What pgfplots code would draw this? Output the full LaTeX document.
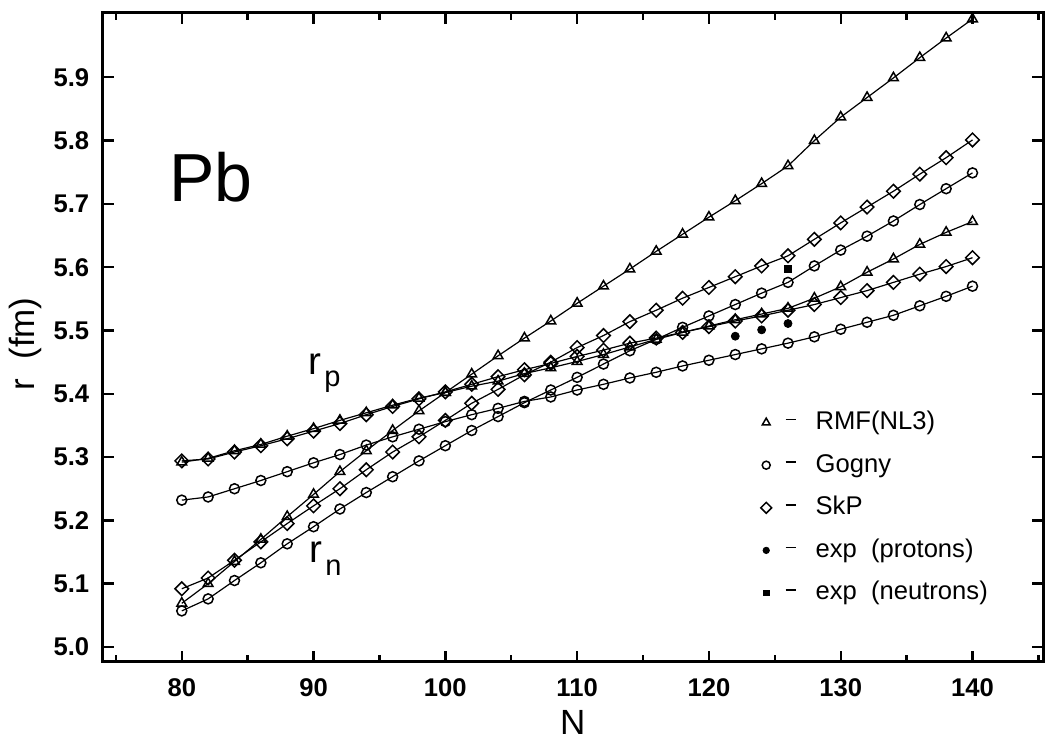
\documentclass[border=0pt]{standalone}
\usepackage{fontspec}
\setmainfont{Liberation Sans}
\usepackage{pgfplots}
\pgfplotsset{compat=1.18}
\usepackage{pgfplotstable}

\pgfplotstableread{
N   rmfn  rmfp  gogn  gogp  skpn  skpp
80  5.069 5.292 5.057 5.232 5.092 5.294
82  5.100 5.298 5.076 5.237 5.109 5.297
84  5.135 5.310 5.105 5.250 5.137 5.308
86  5.170 5.320 5.133 5.263 5.166 5.318
88  5.206 5.333 5.163 5.277 5.195 5.329
90  5.241 5.345 5.190 5.291 5.223 5.341
92  5.277 5.358 5.218 5.304 5.250 5.353
94  5.310 5.370 5.244 5.319 5.280 5.367
96  5.342 5.382 5.269 5.332 5.308 5.380
98  5.373 5.393 5.294 5.344 5.332 5.392
100 5.402 5.402 5.318 5.356 5.358 5.403
102 5.431 5.412 5.342 5.367 5.385 5.415
104 5.460 5.420 5.364 5.377 5.407 5.427
106 5.488 5.432 5.386 5.388 5.430 5.438
108 5.515 5.441 5.406 5.395 5.450 5.448
110 5.543 5.451 5.426 5.406 5.473 5.459
112 5.570 5.462 5.447 5.415 5.492 5.469
114 5.597 5.474 5.468 5.425 5.514 5.480
116 5.625 5.486 5.486 5.434 5.532 5.488
118 5.652 5.497 5.505 5.444 5.551 5.497
120 5.679 5.507 5.523 5.453 5.568 5.506
122 5.705 5.517 5.541 5.462 5.585 5.515
124 5.732 5.526 5.559 5.471 5.602 5.523
126 5.760 5.535 5.576 5.480 5.618 5.532
128 5.800 5.551 5.602 5.490 5.644 5.541
130 5.837 5.569 5.627 5.502 5.670 5.552
132 5.868 5.592 5.649 5.513 5.695 5.563
134 5.899 5.613 5.673 5.524 5.720 5.576
136 5.931 5.636 5.699 5.539 5.747 5.589
138 5.962 5.655 5.724 5.554 5.773 5.601
140 5.992 5.672 5.749 5.570 5.801 5.615
}\data

\pgfplotstableread{
N r
122 5.491
124 5.501
126 5.511
}\expp

\pgfplotstableread{
N r
126 5.597
}\expn

\begin{document}
\begin{tikzpicture}
\begin{axis}[
  scale only axis,
  width=470.15pt, height=324.5pt,
  xmin=74, xmax=145.35, ymin=4.9763, ymax=6.0016,
  xtick={80,90,100,110,120,130,140},
  minor xtick={75,85,95,105,115,125,135,145},
  ytick={5.0,5.1,5.2,5.3,5.4,5.5,5.6,5.7,5.8,5.9},
  yticklabels={5.0,5.1,5.2,5.3,5.4,5.5,5.6,5.7,5.8,5.9},
  tick align=inside,
  major tick length=5.5pt, minor tick length=3.5pt,
  axis line style={line width=1.5pt},
  every tick/.style={black, line width=1.2pt},
  /pgf/number format/assume math mode=true,
  tick label style={font=\fontsize{12.8}{14}\selectfont\bfseries},
  xticklabel style={yshift=-4.8pt},
  yticklabel style={xshift=-3.2pt},
  xlabel={N},
  ylabel={r\hspace{0.55em}(fm)},
  xlabel style={at={(axis description cs:0.5,-0.0924)}, anchor=center, font=\fontsize{17.5}{18}\selectfont},
  ylabel style={at={(axis description cs:-0.0826,0.49)}, anchor=center, font=\fontsize{17.5}{18}\selectfont},
  legend style={at={(axis cs:123.45,5.382)}, anchor=north west, draw=none, fill=none,
    font=\fontsize{12.8}{14}\selectfont, row sep=8.3pt, column sep=0pt,
    nodes={text height=10pt, text depth=3pt, inner sep=0pt}},
  legend cell align=left,
  legend image code/.code={\draw[#1, /tikz/every mark/.append style={scale=0.8}] plot coordinates {(0pt,0pt)};},
  clip=false,
]
\tikzset{
  dl/.style={black, line width=0.6pt},
  mo/.style={solid, fill=white, line width=0.75pt},
}
\addplot[dl, mark=triangle, mark size=2.8pt, mark options={mo}] table[x=N,y=rmfn]{\data};
\addlegendentry{\hspace{7pt}\rule[4.6pt]{5pt}{0.8pt}\hspace{10pt}RMF(NL3)}
\addplot[dl, mark=o, mark size=2.5pt, mark options={mo}] table[x=N,y=gogn]{\data};
\addlegendentry{\hspace{7pt}\rule[4.6pt]{5pt}{0.8pt}\hspace{10pt}Gogny}
\addplot[dl, mark=square, mark size=2.4pt, mark options={mo, rotate=45}] table[x=N,y=skpn]{\data};
\addlegendentry{\hspace{7pt}\rule[4.6pt]{5pt}{0.8pt}\hspace{10pt}SkP}
\addplot[only marks, mark=*, mark size=2pt, mark options={black, fill=black}] table[x=N,y=r]{\expp};
\addlegendentry{\hspace{7pt}\rule[4.6pt]{5pt}{0.8pt}\hspace{10pt}exp\ \ (protons)}
\addplot[only marks, mark=square*, mark size=1.8pt, mark options={black, fill=black}] table[x=N,y=r]{\expn};
\addlegendentry{\hspace{7pt}\rule[4.6pt]{5pt}{0.8pt}\hspace{10pt}exp\ \ (neutrons)}
\addplot[dl, mark=triangle, mark size=2.8pt, mark options={mo}, forget plot] table[x=N,y=rmfp]{\data};
\addplot[dl, mark=o, mark size=2.5pt, mark options={mo}, forget plot] table[x=N,y=gogp]{\data};
\addplot[dl, mark=square, mark size=2.4pt, mark options={mo, rotate=45}, forget plot] table[x=N,y=skpp]{\data};

\node[font=\fontsize{34}{36}\selectfont, anchor=center] at (axis cs:82.2,5.742) {Pb};
\node[anchor=base west, inner sep=0pt] at (axis cs:89.58,5.4297) {\fontsize{19.3}{20}\selectfont r\hspace{1.5pt}\raisebox{-6pt}{\fontsize{14.5}{15}\selectfont p}};
\node[anchor=base west, inner sep=0pt] at (axis cs:89.66,5.1327) {\fontsize{19.3}{20}\selectfont r\hspace{1.5pt}\raisebox{-6.5pt}{\fontsize{14.5}{15}\selectfont n}};
\end{axis}
\pgfresetboundingbox
\path ([shift={(-51.35pt,-40pt)}]current axis.south west) rectangle ++(524.5pt,371pt);
\end{tikzpicture}
\end{document}
